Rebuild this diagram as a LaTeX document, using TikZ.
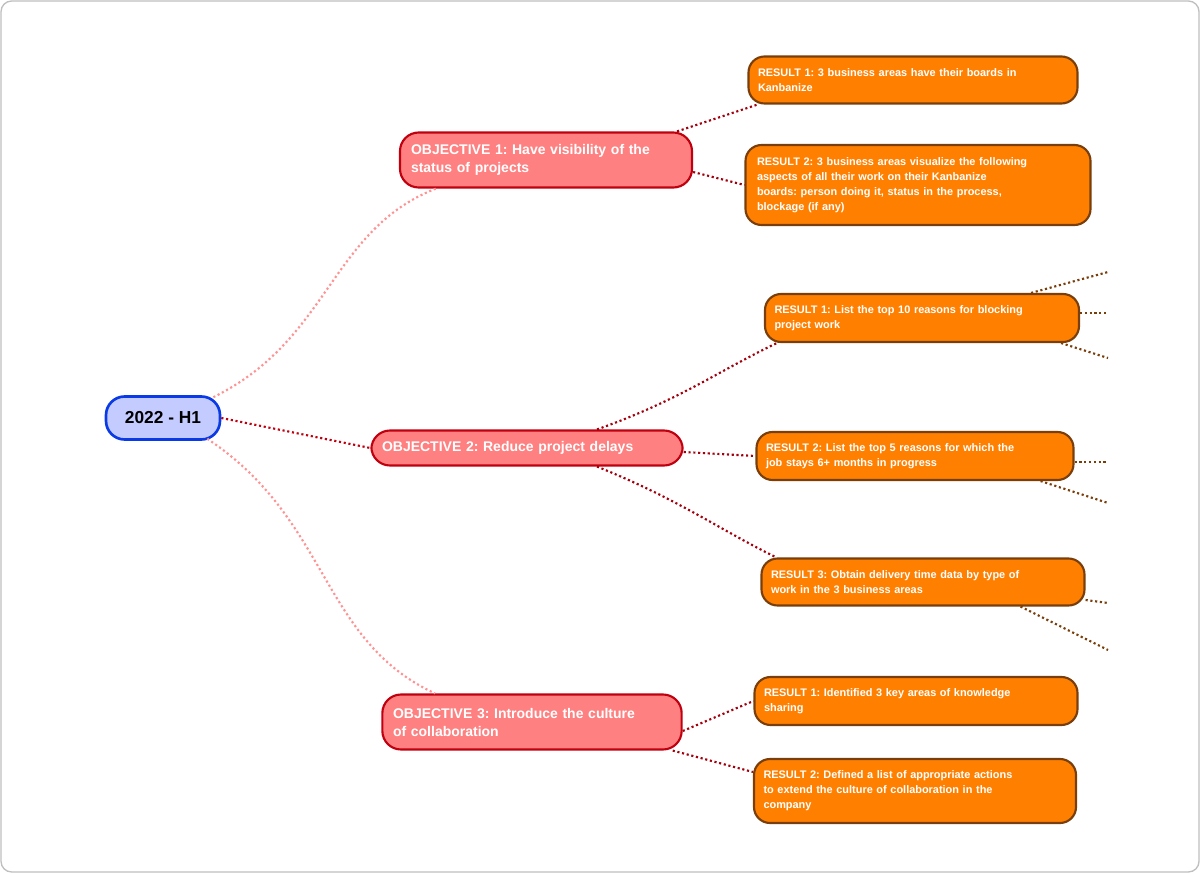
\documentclass[tikz,border=0pt]{standalone}
\usepackage{fontspec}
\setmainfont{Liberation Sans}
\frenchspacing
\definecolor{rootfill}{HTML}{C4CCFF}
\definecolor{rootdraw}{HTML}{0A3AE6}
\definecolor{objfill}{HTML}{FF8080}
\definecolor{objdraw}{HTML}{C0000F}
\definecolor{resfill}{HTML}{FF8000}
\definecolor{resdraw}{HTML}{7A3E0A}
\begin{document}
\begin{tikzpicture}[x=0.75pt,y=-0.75pt,
  root/.style={draw=rootdraw,fill=rootfill,line width=2pt,rounded corners=14pt,font=\bfseries\fontsize{13}{15}\selectfont,minimum width=114*0.75pt,minimum height=43*0.75pt,inner sep=0pt},
  obj/.style={draw=objdraw,fill=objfill,line width=1.6pt,rounded corners=14pt,text=white,font=\bfseries\fontsize{10.5}{13.5}\selectfont,align=left,inner xsep=8pt,inner ysep=0pt},
  res/.style={draw=resdraw,fill=resfill,line width=1.6pt,rounded corners=12pt,text=white,font=\bfseries\fontsize{8.2}{11.2}\selectfont,align=left,inner xsep=7pt,inner ysep=0pt},
  lnk/.style={dotted,line width=1.6pt},
  stub/.style={dotted,line width=1.6pt,draw=resdraw}]
\useasboundingbox (0,0) rectangle (1200,873);
\draw[gray!50,line width=1pt,rounded corners=8pt] (1,1) rectangle (1199,872);
\node[root] (r) at (163,418) {2022 - H1};
\node[obj,minimum width=292*0.75pt,minimum height=55*0.75pt,text width=270*0.75pt] (o1) at (546,160) {OBJECTIVE 1: Have visibility of the\\status of projects};
\node[obj,minimum width=310*0.75pt,minimum height=35*0.75pt,text width=290*0.75pt] (o2) at (527,448) {OBJECTIVE 2: Reduce project delays};
\node[obj,minimum width=299*0.75pt,minimum height=55*0.75pt,text width=278*0.75pt] (o3) at (532,722) {OBJECTIVE 3: Introduce the culture\\of collaboration};
\node[res,minimum width=329*0.75pt,minimum height=47*0.75pt,text width=310*0.75pt] (a1) at (913,80) {RESULT 1: 3 business areas have their boards in\\Kanbanize};
\node[res,minimum width=345*0.75pt,minimum height=80*0.75pt,text width=322*0.75pt] (a2) at (918,185) {RESULT 2: 3 business areas visualize the following\\aspects of all their work on their Kanbanize\\boards: person doing it, status in the process,\\blockage (if any)};
\node[res,minimum width=314*0.75pt,minimum height=48*0.75pt,text width=295*0.75pt] (b1) at (922,318) {RESULT 1: List the top 10 reasons for blocking\\project work};
\node[res,minimum width=317*0.75pt,minimum height=48*0.75pt,text width=298*0.75pt] (b2) at (915,456) {RESULT 2: List the top 5 reasons for which the\\job stays 6+ months in progress};
\node[res,minimum width=323*0.75pt,minimum height=47*0.75pt,text width=304*0.75pt] (b3) at (923,582) {RESULT 3: Obtain delivery time data by type of\\work in the 3 business areas};
\node[res,minimum width=323*0.75pt,minimum height=48*0.75pt,text width=304*0.75pt] (c1) at (916,701) {RESULT 1: Identified 3 key areas of knowledge\\sharing};
\node[res,minimum width=322*0.75pt,minimum height=64*0.75pt,text width=303*0.75pt] (c2) at (915,791) {RESULT 2: Defined a list of appropriate actions\\to extend the culture of collaboration in the\\company};
% root links
\draw[lnk,objfill!85] (r.north east)++(-8,2) .. controls (330,340) and (330,230) .. ([xshift=-110*0.75pt]o1.south);
\draw[lnk,objdraw] (r.east) -- (o2.west);
\draw[lnk,objfill!85] (r.south east)++(-14,-2) .. controls (330,520) and (320,640) .. ([xshift=-97*0.75pt]o3.north);
% objective links
\draw[lnk,objdraw!85!black] ([xshift=-16*0.75pt]o1.north east) -- ([xshift=10*0.75pt]a1.south west);
\draw[lnk,objdraw!85!black] ([yshift=-12*0.75pt]o1.east) -- (a2.west);
\draw[lnk,objdraw!85!black] ([xshift=70*0.75pt]o2.north) .. controls (680,400) and (720,370) .. ([xshift=13*0.75pt]b1.south west);
\draw[lnk,objdraw!85!black] ([yshift=-4*0.75pt]o2.east) -- (b2.west);
\draw[lnk,objdraw!85!black] ([xshift=70*0.75pt]o2.south) .. controls (680,500) and (720,530) .. ([xshift=16*0.75pt]b3.north west);
\draw[lnk,objdraw!85!black] ([yshift=-9*0.75pt]o3.east) -- (c1.west);
\draw[lnk,objdraw!85!black] ([xshift=-10*0.75pt]o3.south east) -- ([yshift=19*0.75pt]c2.west);
% stubs
\coordinate (s1) at (1108,272); \coordinate (s2) at (1108,313); \coordinate (s3) at (1108,358);
\coordinate (s4) at (1108,462); \coordinate (s5) at (1108,503);
\coordinate (s6) at (1108,603); \coordinate (s7) at (1108,650);
\draw[stub] ([xshift=-49*0.75pt]b1.north east) -- (s1);
\draw[stub] ([yshift=5*0.75pt]b1.east) -- (s2);
\draw[stub] ([xshift=-19*0.75pt]b1.south east) -- (s3);
\draw[stub] ([yshift=-6*0.75pt]b2.east) -- (s4);
\draw[stub] ([xshift=-34*0.75pt]b2.south east) -- (s5);
\draw[stub] ([yshift=-18*0.75pt]b3.east) -- (s6);
\draw[stub] ([xshift=-65*0.75pt]b3.south east) -- (s7);
\end{tikzpicture}
\end{document}
